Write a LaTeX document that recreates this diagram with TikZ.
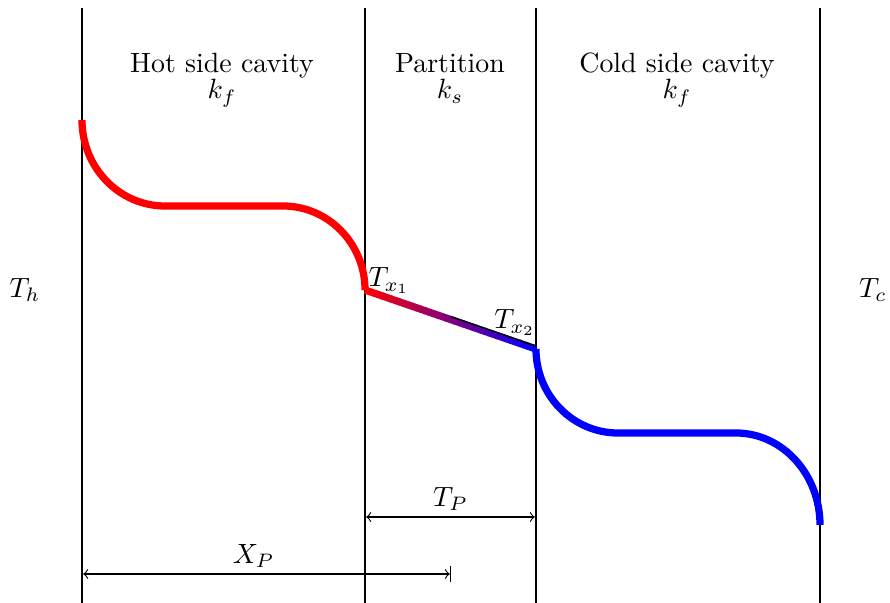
\documentclass[tikz,border=0pt]{standalone}
\usetikzlibrary{calc}
\begin{document}
\begin{tikzpicture}[x=0.359pt,y=-0.359pt,
  wall/.style={line width=0.4pt,black},
  hot/.style={line width=2.6pt,red},
  cold/.style={line width=2.6pt,blue},
  dim/.style={line width=0.4pt,|<->|},
  lbl/.style={anchor=base,inner sep=0pt}]
\useasboundingbox (0,0) rectangle (890,603);
% walls
\foreach \n/\x in {w1/82,w2/365,w3/536,w4/820}{
  \coordinate (\n t) at (\x,8);
  \coordinate (\n b) at (\x,603);
  \draw[wall] (\n t) -- (\n b);
}
% labels
\node[lbl] (hot) at (222,73) {Hot side cavity};
\node[lbl] (hotk) at (222,99) {$k_f$};
\node[lbl] (part) at (450,73) {Partition};
\node[lbl] (partk) at (450,99) {$k_s$};
\node[lbl] (cold) at (677,73) {Cold side cavity};
\node[lbl] (coldk) at (677,99) {$k_f$};
\node (th) at (25,290) {$T_h$};
\node (tc) at (873,290) {$T_c$};
% key points
\coordinate (h0) at (82,120);
\coordinate (x1) at (365,290);
\coordinate (x2) at (536,349);
% hot profile
\draw[hot] (h0) arc[start angle=180,end angle=270,x radius=83,y radius=-86]
  -- (283,206) arc[start angle=90,end angle=0,x radius=82,y radius=-84];
% cold profile
\draw[cold] (x2) arc[start angle=180,end angle=270,x radius=82,y radius=-84]
  -- (736,433) arc[start angle=90,end angle=0,x radius=84,y radius=-92];
% partition gradient
\foreach \i in {0,...,39}{
  \pgfmathsetmacro{\a}{\i/40}
  \pgfmathsetmacro{\b}{(\i+1.15)/40}
  \pgfmathsetmacro{\p}{100-100*(\i+0.5)/40}
  \draw[line width=2.6pt,red!\p!blue] ($(x1)!\a!(x2)$) -- ($(x1)!{min(\b,1)}!(x2)$);
}
\draw[line width=0.5pt] ($(x1)!0.5!(x2)+(0,-3)$) -- ($(x2)+(0,-3)$);
\node[anchor=base west,inner sep=0pt] (tx1) at (368,287) {$T_{x_1}$};
\node[anchor=base east,inner sep=0pt] (tx2) at (536,329) {$T_{x_2}$};
% dimensions
\coordinate (tpA) at (365,517);
\coordinate (tpB) at (536,517);
\draw[dim] (tpA) -- node[above,inner sep=2pt] (tp) {$T_P$} (tpB);
\coordinate (xpA) at (82,574);
\coordinate (xpB) at (451,574);
\draw[dim] (xpA) -- node[above,inner sep=2pt,pos=0.465] (xp) {$X_P$} (xpB);
\end{tikzpicture}
\end{document}
